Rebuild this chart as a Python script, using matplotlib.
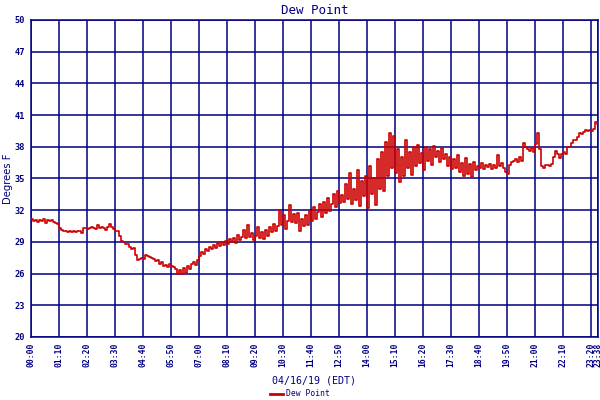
import numpy as np
import matplotlib
matplotlib.use("Agg")
import matplotlib.pyplot as plt

# dew point readings, one every 5 minutes from 00:00 (one row per hour)
dew = [
    31.2, 31.0, 31.1, 30.9, 31.1, 31.0, 31.2, 30.8, 31.1, 31.0, 31.1, 30.9,
    30.8, 30.7, 30.3, 30.1, 30.0, 30.0, 29.9, 30.0, 29.9, 30.0, 29.9, 30.0,
    30.0, 29.8, 30.3, 30.3, 30.2, 30.3, 30.4, 30.3, 30.2, 30.6, 30.3, 30.4,
    30.3, 30.1, 30.4, 30.7, 30.4, 30.2, 30.0, 30.0, 29.6, 29.1, 29.0, 28.8,
    28.8, 28.5, 28.3, 28.4, 27.8, 27.3, 27.4, 27.5, 27.4, 27.8, 27.7, 27.6,
    27.5, 27.4, 27.2, 27.3, 26.9, 27.1, 26.7, 26.8, 26.6, 26.9, 26.7, 26.6,
    26.4, 26.0, 26.3, 26.0, 26.5, 26.1, 26.7, 26.4, 26.9, 27.1, 26.8, 27.3,
    27.7, 28.0, 27.9, 28.3, 28.1, 28.5, 28.3, 28.7, 28.4, 28.9, 28.6, 29.0,
    28.7, 29.1, 28.8, 29.3, 29.0, 29.4, 28.9, 29.7, 29.2, 29.5, 30.1, 29.4,
    30.6, 29.5, 29.8, 29.2, 29.6, 30.4, 29.4, 29.9, 29.3, 30.1, 29.6, 30.4,
    29.9, 30.7, 30.0, 30.5, 32.0, 30.6, 31.5, 30.2, 31.0, 32.5, 30.9, 31.6,
    30.8, 31.7, 30.0, 31.2, 30.5, 31.5, 30.6, 31.9, 31.0, 32.3, 31.2, 31.8,
    32.6, 31.4, 32.8, 31.7, 33.2, 31.9, 32.6, 33.5, 32.3, 33.8, 32.7, 33.4,
    32.8, 34.5, 33.1, 35.5, 32.6, 34.0, 33.0, 35.8, 32.4, 34.8, 33.3, 35.2,
    32.2, 36.2, 33.5, 35.0, 32.5, 36.8, 34.0, 37.5, 33.8, 38.5, 35.2, 39.3,
    36.0, 39.0, 35.5, 37.8, 34.7, 37.0, 35.2, 38.6, 36.0, 37.5, 35.3, 38.0,
    36.2, 38.2, 36.5, 37.4, 35.8, 38.0, 36.7, 37.8, 36.3, 38.1, 37.0, 37.6,
    36.6, 37.9, 36.8, 37.3, 36.2, 37.0, 35.9, 36.8, 36.0, 37.2, 35.6, 36.5,
    35.2, 36.9, 35.4, 36.4, 35.1, 36.6, 35.8, 36.2, 36.0, 36.5, 35.9, 36.3,
    36.1, 36.4, 35.9, 36.3, 36.0, 37.2, 36.2, 36.5, 36.0, 35.6, 35.4, 36.3,
    36.6, 36.7, 36.8, 36.6, 37.0, 36.7, 38.4, 38.0, 37.8, 37.6, 37.9, 37.5,
    38.3, 39.3, 37.8, 36.2, 36.0, 36.3, 36.3, 36.2, 36.4, 37.0, 37.6, 37.3,
    36.9, 37.3, 37.5, 37.3, 38.0, 38.0, 38.4, 38.6, 38.6, 38.9, 39.3, 39.2,
    39.4, 39.6, 39.5, 39.6, 39.5, 39.7, 40.3, 40.2,
]
minutes = np.arange(len(dew)) * 5

xlabels = ["00:00", "01:10", "02:20", "03:30", "04:40", "05:50", "07:00",
           "08:10", "09:20", "10:30", "11:40", "12:50", "14:00", "15:10",
           "16:20", "17:30", "18:40", "19:50", "21:00", "22:10", "23:20", "23:38"]
yticks = [20, 23, 26, 29, 32, 35, 38, 41, 44, 47, 50]

navy = "#000080"
red = "#cc0000"
mono = "DejaVu Sans Mono"

xticks = [int(s[:2]) * 60 + int(s[3:]) for s in xlabels]

fig = plt.figure(figsize=(6, 4), dpi=100)
ax = fig.add_axes([31 / 600, 63 / 400, 567 / 600, 317 / 400])

ax.plot(minutes, dew, color=red, lw=1.2, drawstyle="steps-post", zorder=3)

ax.set_xlim(0, xticks[-1])
ax.set_ylim(20, 50)
ax.set_xticks(xticks)
ax.set_xticklabels(xlabels, rotation=90, fontsize=5.8, family=mono,
                   color=navy, fontweight="bold")
ax.set_yticks(yticks)
ax.set_yticklabels([str(v) for v in yticks], fontsize=6.2, family=mono,
                   color=navy, fontweight="bold")
ax.tick_params(length=0, pad=4)
ax.grid(True, color=navy, lw=1.1, zorder=1)
for s in ax.spines.values():
    s.set_color(navy)
    s.set_linewidth(1.1)

ax.set_title("Dew Point", fontsize=9, family=mono, color=navy, pad=4)
ax.set_xlabel("04/16/19 (EDT)", fontsize=7.2, family=mono, color=navy, labelpad=6)
ax.set_ylabel("Degrees F", fontsize=7.2, family="DejaVu Sans", color=navy)
ax.yaxis.set_label_coords(-0.031, 0.5)

fig.legend([plt.Line2D([], [], color=red, lw=2)], ["Dew Point"],
           loc="center", bbox_to_anchor=(0.5, 0.015), frameon=False,
           prop={"family": mono, "size": 5.8}, labelcolor=navy,
           handlelength=1.6, handletextpad=0.3, borderpad=0)

fig.savefig("out.png", dpi=100)
